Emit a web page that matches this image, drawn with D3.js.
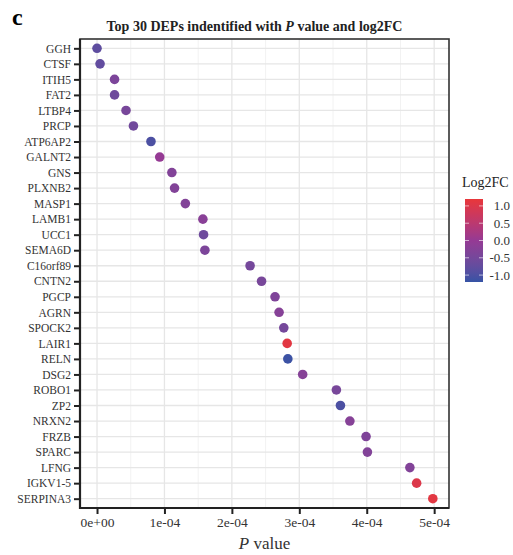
<!DOCTYPE html>
<html><head><meta charset="utf-8">
<script src="https://cdn.jsdelivr.net/npm/d3@7"></script>
<style>body{margin:0;background:#fff}svg{display:block}</style>
</head><body>
<script>
const genes = ["GGH","CTSF","ITIH5","FAT2","LTBP4","PRCP","ATP6AP2","GALNT2","GNS","PLXNB2","MASP1","LAMB1","UCC1","SEMA6D","C16orf89","CNTN2","PGCP","AGRN","SPOCK2","LAIR1","RELN","DSG2","ROBO1","ZP2","NRXN2","FRZB","SPARC","LFNG","IGKV1-5","SERPINA3"];
const pValues = [0.0e-4,0.045e-4,0.26e-4,0.26e-4,0.43e-4,0.54e-4,0.80e-4,0.93e-4,1.11e-4,1.15e-4,1.31e-4,1.57e-4,1.58e-4,1.60e-4,2.27e-4,2.44e-4,2.64e-4,2.70e-4,2.77e-4,2.82e-4,2.83e-4,3.05e-4,3.55e-4,3.61e-4,3.75e-4,3.99e-4,4.01e-4,4.64e-4,4.74e-4,4.98e-4];
const log2FC = [-0.8,-0.75,-0.4,-0.6,-0.45,-0.55,-1.0,0.0,-0.3,-0.3,-0.3,-0.2,-0.6,-0.4,-0.5,-0.45,-0.35,-0.25,-0.5,1.1,-1.15,-0.25,-0.45,-1.0,-0.25,-0.35,-0.3,-0.3,1.0,1.1];
const xTicks = [0,1e-4,2e-4,3e-4,4e-4,5e-4];
const xTickLabels = ["0e+00","1e-04","2e-04","3e-04","4e-04","5e-04"];
const legendTicks = [1.0,0.5,0.0,-0.5,-1.0];
const legendTickLabels = ["1.0","0.5","0.0","-0.5","-1.0"];

const W=513,H=555;
const svg=d3.select("body").append("svg").attr("width",W).attr("height",H);
const L=80,R=449,T=39,B=508;
const x=d3.scaleLinear().domain([-0.2524e-4,5.22e-4]).range([L,R]);
const y=d3.scalePoint().domain(genes).range([T,B]).padding(0.6);
const color=d3.scaleLinear().domain([-1.2,0,1.2]).range(["#3553a5","#953a94","#e8373a"]).interpolate(d3.interpolateLab);
const serif="'Liberation Serif','Times New Roman',serif";

// grid
const g=svg.append("g");
const minor=[0.5e-4,1.5e-4,2.5e-4,3.5e-4,4.5e-4];
g.selectAll(".mn").data(minor).enter().append("line")
 .attr("x1",d=>x(d)).attr("x2",d=>x(d)).attr("y1",T).attr("y2",B)
 .attr("stroke","#f2f2f2").attr("stroke-width",1);
g.selectAll(".mj").data(xTicks).enter().append("line")
 .attr("x1",d=>x(d)).attr("x2",d=>x(d)).attr("y1",T).attr("y2",B)
 .attr("stroke","#e6e6e6").attr("stroke-width",1.3);
g.selectAll(".hy").data(genes).enter().append("line")
 .attr("x1",L).attr("x2",R).attr("y1",d=>y(d)).attr("y2",d=>y(d))
 .attr("stroke","#e6e6e6").attr("stroke-width",1.3);

// points
const data=genes.map((d,i)=>({g:d,p:pValues[i],fc:log2FC[i]}));
svg.selectAll(".pt").data(data).enter().append("circle")
 .attr("cx",d=>x(d.p)).attr("cy",d=>y(d.g)).attr("r",4.8)
 .attr("fill",d=>color(d.fc));

// border
svg.append("rect").attr("x",L).attr("y",T).attr("width",R-L).attr("height",B-T)
 .attr("fill","none").attr("stroke","#333").attr("stroke-width",1.6);
svg.append("line").attr("x1",L).attr("x2",L).attr("y1",T).attr("y2",B+1).attr("stroke","#222").attr("stroke-width",2.2);
svg.append("line").attr("x1",L-1).attr("x2",R).attr("y1",B).attr("y2",B).attr("stroke","#222").attr("stroke-width",2.2);

// axes
const ya=svg.append("g").attr("transform",`translate(${L},0)`)
 .call(d3.axisLeft(y).tickSize(6).tickPadding(3));
ya.select(".domain").remove();
ya.selectAll("line").attr("stroke","#222").attr("stroke-width",2);
ya.selectAll("text").attr("font-family",serif).attr("font-size",11.5).attr("fill","#333");

const xa=svg.append("g").attr("transform",`translate(0,${B})`)
 .call(d3.axisBottom(x).tickValues(xTicks).tickFormat((d,i)=>xTickLabels[i]).tickSize(6).tickPadding(3));
xa.select(".domain").remove();
xa.selectAll("line").attr("stroke","#222").attr("stroke-width",2);
xa.selectAll("text").attr("font-family",serif).attr("font-size",13.5).attr("fill","#333");

// title
const t=svg.append("text").attr("x",(L+R)/2-10).attr("y",31).attr("text-anchor","middle")
 .attr("font-family",serif).attr("font-weight","bold").attr("font-size",14).attr("fill","#222");
t.append("tspan").text("Top 30 DEPs indentified with ");
t.append("tspan").attr("font-style","italic").text("P");
t.append("tspan").text(" value and log2FC");

svg.append("text").attr("x",12).attr("y",25).attr("font-family",serif).attr("font-weight","bold")
 .attr("font-size",24).attr("fill","#000").text("c");

const xt=svg.append("text").attr("x",(L+R)/2).attr("y",549).attr("text-anchor","middle")
 .attr("font-family",serif).attr("font-size",17).attr("fill","#333");
xt.append("tspan").attr("font-style","italic").text("P");
xt.append("tspan").text(" value");

// legend
const lgX=465,lgW=18;
const ly=d3.scaleLinear().domain([1.2,-1.2]).range([199,282]);
const defs=svg.append("defs");
const grad=defs.append("linearGradient").attr("id","lg").attr("x1",0).attr("x2",0).attr("y1",0).attr("y2",1);
d3.range(0,1.0001,0.05).forEach(s=>{
  grad.append("stop").attr("offset",s).attr("stop-color",color(1.2-2.4*s));
});
svg.append("rect").attr("x",lgX).attr("y",ly(1.2)).attr("width",lgW).attr("height",ly(-1.2)-ly(1.2)).attr("fill","url(#lg)");
svg.selectAll(".lt").data(legendTicks).enter().append("g").each(function(d){
  const gg=d3.select(this);
  gg.append("line").attr("x1",lgX).attr("x2",lgX+4).attr("y1",ly(d)).attr("y2",ly(d)).attr("stroke","#fff").attr("stroke-opacity",0.6);
  gg.append("line").attr("x1",lgX+lgW-4).attr("x2",lgX+lgW).attr("y1",ly(d)).attr("y2",ly(d)).attr("stroke","#fff").attr("stroke-opacity",0.6);
});
svg.selectAll(".ll").data(legendTicks).enter().append("text")
 .attr("x",510).attr("y",d=>ly(d)+4.5).attr("text-anchor","end")
 .attr("font-family",serif).attr("font-size",13).attr("fill","#333")
 .text((d,i)=>legendTickLabels[i]);
svg.append("text").attr("x",462).attr("y",187).attr("font-family",serif).attr("font-size",14).attr("fill","#222").text("Log2FC");
</script>
</body></html>
